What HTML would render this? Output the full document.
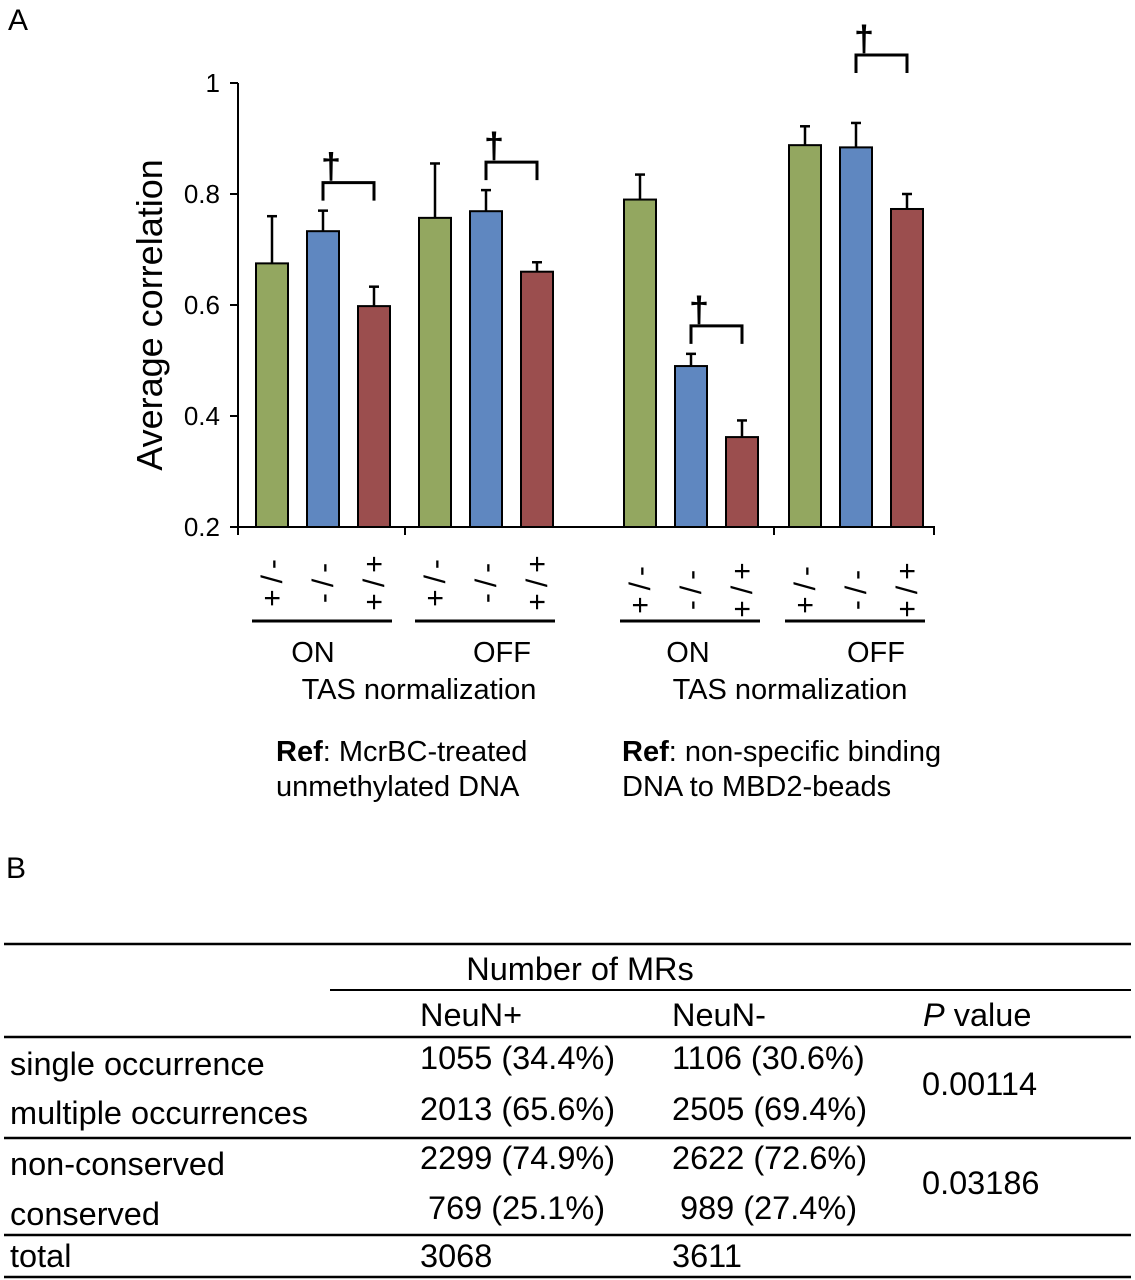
<!DOCTYPE html>
<html><head><meta charset="utf-8"><style>
body{margin:0;background:#fff}
svg{display:block;font-family:"Liberation Sans",Arial,sans-serif}
</style></head><body>
<svg id="fig" width="1135" height="1280" viewBox="0 0 1135 1280">
<text x="8" y="30" font-size="30">A</text>
<text x="6" y="878" font-size="30">B</text>
<g id="chart"></g>
<g id="table" font-size="32.5">
  <line x1="4" y1="944" x2="1131" y2="944" stroke="#000" stroke-width="2.5"/>
  <line x1="330" y1="990" x2="1131" y2="990" stroke="#000" stroke-width="2"/>
  <line x1="4" y1="1037" x2="1131" y2="1037" stroke="#000" stroke-width="2.5"/>
  <line x1="4" y1="1138" x2="1131" y2="1138" stroke="#000" stroke-width="2.5"/>
  <line x1="4" y1="1235" x2="1131" y2="1235" stroke="#000" stroke-width="2.5"/>
  <line x1="4" y1="1277" x2="1131" y2="1277" stroke="#000" stroke-width="2.5"/>
  <text x="580" y="980" text-anchor="middle">Number of MRs</text>
  <text x="420" y="1026">NeuN+</text>
  <text x="672" y="1026">NeuN-</text>
  <text x="923" y="1026"><tspan font-style="italic">P</tspan>  value</text>
  <text x="10" y="1075">single occurrence</text>
  <text x="420" y="1069">1055 (34.4%)</text><text x="672" y="1069">1106 (30.6%)</text>
  <text x="10" y="1124">multiple occurrences</text>
  <text x="420" y="1120">2013 (65.6%)</text><text x="672" y="1120">2505 (69.4%)</text>
  <text x="922" y="1095">0.00114</text>
  <text x="10" y="1175">non-conserved</text>
  <text x="420" y="1169">2299 (74.9%)</text><text x="672" y="1169">2622 (72.6%)</text>
  <text x="10" y="1225">conserved</text>
  <text x="428" y="1219">769 (25.1%)</text><text x="680" y="1219">989 (27.4%)</text>
  <text x="922" y="1194">0.03186</text>
  <text x="10" y="1267">total</text>
  <text x="420" y="1267">3068</text><text x="672" y="1267">3611</text>
</g>
</svg>
<script>
const categories = ["McrBC ON","McrBC OFF","MBD2 ON","MBD2 OFF"];
const greenVals = [0.675,0.757,0.79,0.888];
const greenErr = [0.085,0.098,0.045,0.034];
const blueVals = [0.733,0.769,0.49,0.884];
const blueErr = [0.037,0.038,0.022,0.044];
const redVals = [0.598,0.66,0.362,0.773];
const redErr = [0.035,0.017,0.03,0.027];
const yTicks = [0.2,0.4,0.6,0.8,1];
const yTickLabels = ["0.2","0.4","0.6","0.8","1"];

const NS="http://www.w3.org/2000/svg";
const g=document.getElementById('chart');
function el(t,a,p){const e=document.createElementNS(NS,t);for(const k in a)e.setAttribute(k,a[k]);(p||g).appendChild(e);return e;}
const y0=527,y1=83,vmin=0.2,vmax=1;
function yS(v){return y0-(v-vmin)/(vmax-vmin)*(y0-y1);}
const groupStart=[256,419,624,789], pitch=51, bw=32;
function xS(gi,si){return groupStart[gi]+si*pitch;}

let ax=el('line',{x1:238,y1:y1,x2:238,y2:y0,stroke:'#000','stroke-width':2});


let xa=el('line',{x1:238,y1:y0,x2:935,y2:y0,stroke:'#000','stroke-width':2});


[238,405,774,934].forEach(x=>el('line',{x1:x,y1:y0,x2:x,y2:y0+8,stroke:'#000','stroke-width':2}));
yTicks.forEach((v,i)=>{
  el('line',{x1:230,y1:yS(v),x2:238,y2:yS(v),stroke:'#000','stroke-width':2});
  const t=el('text',{x:220,y:yS(v)+9,'text-anchor':'end','font-size':26});
  t.textContent=yTickLabels[i];
  
  
});
const yt=el('text',{x:0,y:0,'font-size':36,'text-anchor':'middle',transform:'translate(162,315) rotate(-90)'});
yt.textContent='Average correlation';



const series=[[greenVals,greenErr,'#93a760','green'],[blueVals,blueErr,'#5f87c0','blue'],[redVals,redErr,'#9b4e4e','red']];
const xl=["+/-","-/-","+/+"];
categories.forEach((c,gi)=>{
  series.forEach((s,si)=>{
    const x=xS(gi,si), v=s[0][gi], e=s[1][gi];
    const r=el('rect',{x:x,y:yS(v),width:bw,height:y0-yS(v),fill:s[2],stroke:'#000','stroke-width':2});
    
    
    el('line',{x1:x+bw/2,y1:yS(v),x2:x+bw/2,y2:yS(v+e),stroke:'#000','stroke-width':2.5});
    el('line',{x1:x+bw/2-5,y1:yS(v+e),x2:x+bw/2+5,y2:yS(v+e),stroke:'#000','stroke-width':2.5});
    const lx=x+bw/2, ly=(gi>=2?584:577);
    const t=el('text',{x:0,y:0,'font-size':30,'letter-spacing':'6','text-anchor':'middle',transform:`translate(${lx+10},${ly+3}) rotate(-90)`});
    t.textContent=xl[si];
    
    
  });
  const bx1=xS(gi,1)+bw/2, bx2=xS(gi,2)+bw/2;
  const top=yS(Math.max(blueVals[gi]+blueErr[gi],redVals[gi]+redErr[gi]))-(gi==3?68:28);
  const br=el('path',{d:`M${bx1},${top+18} V${top} H${bx2} V${top+18}`,fill:'none',stroke:'#000','stroke-width':3});
  
  
  const d=el('text',{x:bx1+8,y:top-4,'font-size':36,'text-anchor':'middle','font-weight':'bold'});
  d.textContent='†';
  
  
  const ul=el('line',{x1:xS(gi,0)-4,y1:621,x2:xS(gi,2)+bw+2,y2:621,stroke:'#000','stroke-width':3});
  
  
});
function txt(x,y,s,name,anchor){const t=el('text',{x:x,y:y,'font-size':29,'text-anchor':anchor||'start'});t.innerHTML=s;return t;}
txt(313,662,'ON','on-label-1','middle');
txt(502,662,'OFF','off-label-1','middle');
txt(419,699,'TAS normalization','tas-label-1','middle');
txt(688,662,'ON','on-label-2','middle');
txt(876,662,'OFF','off-label-2','middle');
txt(790,699,'TAS normalization','tas-label-2','middle');
txt(276,761,'<tspan font-weight="bold">Ref</tspan>: McrBC-treated','ref-label-1');
txt(276,796,'unmethylated DNA','ref-label-1b');
txt(622,761,'<tspan font-weight="bold">Ref</tspan>: non-specific binding','ref-label-2');
txt(622,796,'DNA to MBD2-beads','ref-label-2b');
</script>
</body></html>
